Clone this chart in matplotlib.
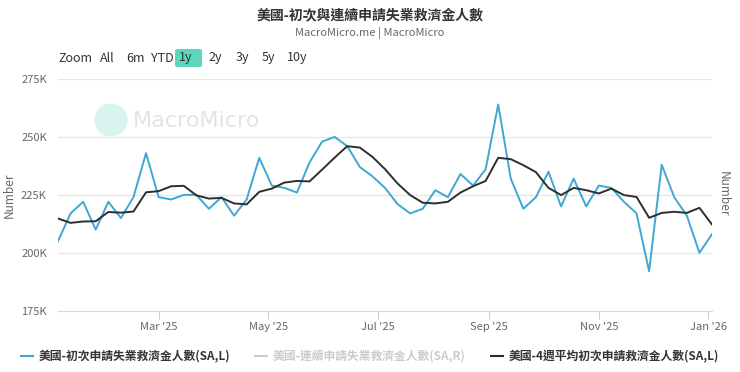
import matplotlib
matplotlib.use("Agg")
from matplotlib import pyplot as plt
from matplotlib.lines import Line2D
from matplotlib.patches import Circle, FancyBboxPatch
import matplotlib.dates as mdates
import pandas as pd

plt.rcParams['font.family'] = ['Noto Sans CJK TC', 'DejaVu Sans']

# weekly data, week ending Saturday (thousands)
weeks = pd.date_range('2025-01-04', periods=53, freq='7D')
initial_claims = [205, 217, 222, 210, 222, 215, 224, 243, 224, 223,
                  225, 225, 219, 224, 216, 223, 241, 229, 228, 226,
                  239, 248, 250, 246, 237, 233, 228, 221, 217, 219,
                  227, 224, 234, 229, 236, 264, 232, 219, 224, 235,
                  220, 232, 220, 229, 228, 222, 217, 192, 238, 224,
                  216, 200, 208]
avg_4wk = [214.8, 212.9, 213.5, 213.6, 217.6, 217.3, 217.8, 226.1, 226.6, 228.7,
           228.9, 224.8, 223.4, 223.7, 221.3, 220.9, 226.3, 227.7, 230.3, 231.0,
           230.8, 235.9, 241.1, 246.0, 245.4, 241.4, 236.1, 229.9, 224.9, 221.6,
           221.3, 222.0, 226.0, 228.7, 231.0, 241.0, 240.4, 237.8, 234.8, 228.0,
           224.9, 228.0, 227.0, 225.6, 227.7, 224.9, 224.1, 215.1, 217.2, 217.7,
           217.2, 219.4, 212.2]
y_ticks = [175, 200, 225, 250, 275]
tick_dates = pd.to_datetime(['2025-03-01', '2025-05-01', '2025-07-01',
                             '2025-09-01', '2025-11-01', '2026-01-01'])
series_names = ['美國-初次申請失業救濟金人數(SA,L)',
                '美國-連續申請失業救濟金人數(SA,R)',
                '美國-4週平均初次申請救濟金人數(SA,L)']
range_buttons = ['Zoom', 'All', '6m', 'YTD', '1y', '2y', '3y', '5y', '10y']

blue = '#3ea8d2'
dark = '#2e2e2e'

fig = plt.figure(figsize=(7.4, 3.72), dpi=100)
ax = fig.add_axes([58 / 740, 1 - 310.7 / 372, 654 / 740, (310.7 - 79) / 372])

# watermark (pixel coords, origin bottom-left)
fig.patches.append(Circle((111, 372 - 120), 16.5, transform=None,
                          facecolor='#d9f4ee', edgecolor='none', zorder=0))
fig.text(133 / 740, 1 - 121 / 372, 'MacroMicro', fontsize=16, color='#e3e3e3',
         va='center', ha='left', family=['DejaVu Sans'], zorder=0)

ax.plot(weeks, initial_claims, color=blue, lw=1.4, zorder=3)
ax.plot(weeks, avg_4wk, color=dark, lw=1.4, zorder=4)

ax.set_ylim(175, 275)
ax.set_xlim(weeks[0], weeks[-1])
ax.set_yticks(y_ticks)
ax.set_yticklabels([f'{v}K' for v in y_ticks])
ax.set_xticks(tick_dates)
ax.xaxis.set_major_formatter(mdates.DateFormatter("%b '%y"))
ax.grid(axis='y', color='#e6e6e6', lw=0.9)
ax.set_axisbelow(True)
ax.patch.set_alpha(0)
for s in ['top', 'right', 'left']:
    ax.spines[s].set_visible(False)
ax.spines['bottom'].set_color('#d8d8d8')
ax.tick_params(axis='y', length=0, labelsize=8, colors='#666666', pad=8)
ax.tick_params(axis='x', length=6, width=0.8, color='#cccccc', labelsize=8,
               labelcolor='#666666', pad=2)
ax.set_ylabel('Number', fontsize=8.5, color='#666666')
ax.yaxis.set_label_coords(-0.064, 0.5)

fig.text(723 / 740, 1 - 194 / 372, 'Number', rotation=270, fontsize=8.5,
         color='#666666', ha='center', va='center')

# title
fig.text(0.5, 1 - 15 / 372, '美國-初次與連續申請失業救濟金人數', ha='center', va='center',
         fontsize=10, fontweight='bold', color='#333333')
fig.text(0.5, 1 - 33 / 372, 'MacroMicro.me | MacroMicro', ha='center', va='center',
         fontsize=8, color='#666666')

# range selector
btn_x = [58, 100, 126, 151, 179, 208, 236, 262, 287]
for label, x in zip(range_buttons, btn_x):
    if label == '1y':
        fig.patches.append(FancyBboxPatch((175 / 740, 1 - 67 / 372), 27 / 740, 18 / 372,
                                          boxstyle='round,pad=0,rounding_size=0.004',
                                          transform=fig.transFigure,
                                          facecolor='#5cd6bd', edgecolor='none'))
    fig.text(x / 740, 1 - 58 / 372, label, ha='left', va='center', fontsize=9,
             color='#333333')

# legend (continuing claims is hidden, shown greyed out)
handles = [Line2D([], [], color=blue, lw=1.5),
           Line2D([], [], color='#cccccc', lw=1.5),
           Line2D([], [], color=dark, lw=1.5)]
leg = fig.legend(handles, series_names, loc='center', bbox_to_anchor=(370 / 740, 1 - 357 / 372),
                 ncol=3, frameon=False, handlelength=1.0, handletextpad=0.5,
                 columnspacing=2.1, prop={'size': 8.5, 'weight': 'bold'})
for txt, c in zip(leg.get_texts(), ['#333333', '#cccccc', '#333333']):
    txt.set_color(c)

fig.savefig('out.png', dpi=100)
